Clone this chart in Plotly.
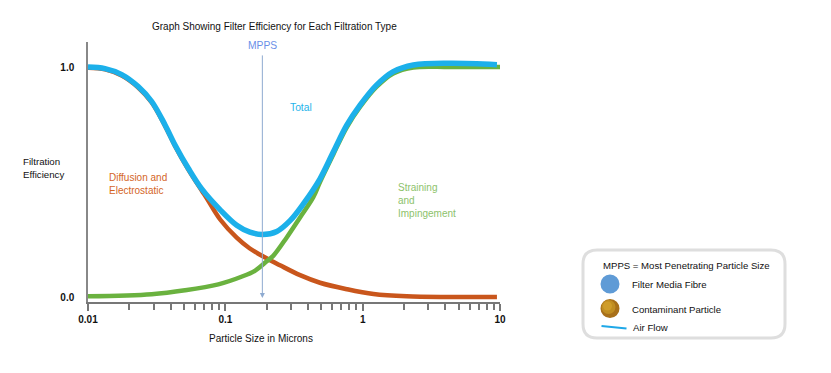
import math
import plotly.graph_objects as go

# ---------------- data ----------------
diff_size = [0.01, 0.0133, 0.0176, 0.0232, 0.0291, 0.0364, 0.0431, 0.0537, 0.0673, 0.0731, 0.0914,
             0.121, 0.15, 0.189, 0.250, 0.350, 0.489, 0.766, 1.20, 2.09, 4.09, 9.5]
diff_eff = [0.997, 0.99, 0.963, 0.911, 0.846, 0.744, 0.656, 0.555, 0.463, 0.43, 0.338,
            0.258, 0.212, 0.176, 0.138, 0.095, 0.062, 0.034, 0.013, 0.003, 0.0, 0.0]

strain_size = [0.01, 0.0291, 0.0508, 0.0889, 0.131, 0.165, 0.200, 0.224, 0.280, 0.350, 0.437, 0.489,
               0.611, 0.766, 0.957, 1.26, 1.67, 2.34, 4.33, 10.0]
strain_eff = [0.003, 0.012, 0.029, 0.055, 0.088, 0.115, 0.155, 0.18, 0.259, 0.346, 0.434, 0.5,
              0.62, 0.738, 0.826, 0.913, 0.972, 0.998, 1.0, 1.0]

total_size = [0.01, 0.0133, 0.0176, 0.0232, 0.0291, 0.0364, 0.0431, 0.0537, 0.0673, 0.0914, 0.121,
              0.151, 0.187, 0.237, 0.296, 0.370, 0.489, 0.611, 0.766, 0.957, 1.26, 1.67, 2.34, 4.33, 9.5]
total_eff = [1.0, 0.993, 0.967, 0.915, 0.85, 0.748, 0.66, 0.56, 0.47, 0.38, 0.312,
             0.282, 0.272, 0.285, 0.332, 0.405, 0.514, 0.63, 0.747, 0.834, 0.921, 0.98, 1.009, 1.016, 1.01]

mpps_size = 0.186

x_tick_vals = [0.01, 0.1, 1, 10]
x_tick_text = ["0.01", "0.1", "1", "10"]
x_minor_vals = [m * d for d in (0.01, 0.1, 1) for m in range(2, 10)]
y_tick_vals = [0.0, 1.0]
y_tick_text = ["0.0", "1.0"]

# ---------------- layout geometry (page pixels) ----------------
W, H = 831, 373
OFF = 8  # body margin of the page
L, R_EDGE, T, B_EDGE = 88, 500, 42, 302
Y0_PX, Y1_PX = 297, 67
FW, FH = W - 2 * OFF, H - 2 * OFF
UNIT = Y0_PX - Y1_PX


def px(x, y):
    return (x - L) / (R_EDGE - L), (B_EDGE - y) / (B_EDGE - T)


FONT = "Liberation Sans, Arial, sans-serif"

fig = go.Figure()
fig.add_trace(go.Scatter(x=diff_size, y=diff_eff, mode="lines",
                         line=dict(color="#c9561c", width=4.5, shape="spline", smoothing=1.0),
                         hoverinfo="skip"))
fig.add_trace(go.Scatter(x=strain_size, y=strain_eff, mode="lines",
                         line=dict(color="#6ab23f", width=4.5, shape="spline", smoothing=1.0),
                         hoverinfo="skip"))
fig.add_trace(go.Scatter(x=total_size, y=total_eff, mode="lines",
                         line=dict(color="#1cb0ea", width=5.5, shape="spline", smoothing=1.0),
                         hoverinfo="skip"))

annotations = []


def text(x, y, s, color="#111111", size=10, xanchor="left"):
    xp, yp = px(x, y)
    annotations.append(dict(x=xp, y=yp, xref="paper", yref="paper", text=s, showarrow=False,
                            xanchor=xanchor, yanchor="middle", align="left",
                            font=dict(family=FONT, size=size, color=color)))


text(274, 26, "Graph Showing Filter Efficiency for Each Filtration Type", size=10, xanchor="center")
text(262, 46, "MPPS", color="#6a8fe8", size=10.3, xanchor="center")
text(288, 107, "Total", color="#1fb3ea", size=10.3)
text(107, 184, "Diffusion and<br>Electrostatic", color="#d4651f", size=10)
text(396, 200, "Straining<br>and<br>Impingement", color="#8dc26b", size=10)
text(21, 168, "Filtration<br>Efficiency", size=9.7)
text(261, 338, "Particle Size in Microns", size=10, xanchor="center")

# MPPS arrow
annotations.append(dict(x=math.log10(mpps_size), y=-0.004, xref="x", yref="y", ax=0, ay=-(298 - 54),
                        text="", showarrow=True, arrowhead=2, arrowsize=1, arrowwidth=1,
                        arrowcolor="#8eaad0", standoff=0))

# legend box
shapes = []
bx0, by0, bx1, by1, r = 583, 250, 785, 338, 14


def P(x, y):
    a, b = px(x, y)
    return f"{a:.5f},{b:.5f}"


path = (f"M {P(bx0 + r, by0)} L {P(bx1 - r, by0)} Q {P(bx1, by0)} {P(bx1, by0 + r)} "
        f"L {P(bx1, by1 - r)} Q {P(bx1, by1)} {P(bx1 - r, by1)} "
        f"L {P(bx0 + r, by1)} Q {P(bx0, by1)} {P(bx0, by1 - r)} "
        f"L {P(bx0, by0 + r)} Q {P(bx0, by0)} {P(bx0 + r, by0)} Z")
shapes.append(dict(type="path", path=path, xref="paper", yref="paper",
                   line=dict(color="#dedede", width=3), fillcolor="white"))


def circle(cx, cy, rad, color):
    x0, y0 = px(cx - rad, cy + rad)
    x1, y1 = px(cx + rad, cy - rad)
    shapes.append(dict(type="circle", xref="paper", yref="paper", x0=x0, y0=y0, x1=x1, y1=y1,
                       fillcolor=color, line=dict(width=0)))


circle(610, 284, 9.5, "#5f9bd6")
circle(610, 308.5, 9.5, "#a8701a")
circle(608.5, 307, 7, "#c08e22")
circle(607.5, 306, 4.5, "#cf9d2a")
lx0, ly0 = px(601.5, 326)
lx1, ly1 = px(626.5, 328.5)
shapes.append(dict(type="line", xref="paper", yref="paper", x0=lx0, y0=ly0, x1=lx1, y1=ly1,
                   line=dict(color="#1fa8e8", width=2)))

text(601, 265, "MPPS = Most Penetrating Particle Size", size=9.6)
text(630, 284, "Filter Media Fibre", size=9.6)
text(630, 309, "Contaminant Particle", size=9.6)
text(631, 327, "Air Flow", size=9.6)

fig.update_layout(
    width=FW, height=FH,
    margin=dict(l=L - OFF, r=FW - (R_EDGE - OFF), t=T - OFF, b=FH - (B_EDGE - OFF), pad=0),
    paper_bgcolor="white", plot_bgcolor="white",
    showlegend=False,
    annotations=annotations, shapes=shapes,
    font=dict(family=FONT, size=10, color="#111111"),
    xaxis=dict(type="log", range=[-2, 1], showgrid=False, zeroline=False,
               showline=True, linecolor="#777777", linewidth=1.5,
               ticks="outside", ticklen=7, tickcolor="#777777", tickwidth=1.5,
               tickvals=x_tick_vals, ticktext=[f"<b>{t}</b>" for t in x_tick_text],
               tickfont=dict(family=FONT, size=10, color="#111111"),
               minor=dict(tickvals=x_minor_vals, ticks="outside", ticklen=6,
                          tickcolor="#777777", tickwidth=1.5, showgrid=False)),
    yaxis=dict(range=[-(B_EDGE - Y0_PX) / UNIT, 1 + (Y1_PX - T) / UNIT], showgrid=False, zeroline=False,
               showline=True, linecolor="#888888", linewidth=1.5, ticks="",
               tickvals=y_tick_vals, ticktext=[f"<b>{t}</b>" for t in y_tick_text],
               tickfont=dict(family=FONT, size=10, color="#111111"), ticklabelstandoff=10),
)

fig.write_html("out.html")
